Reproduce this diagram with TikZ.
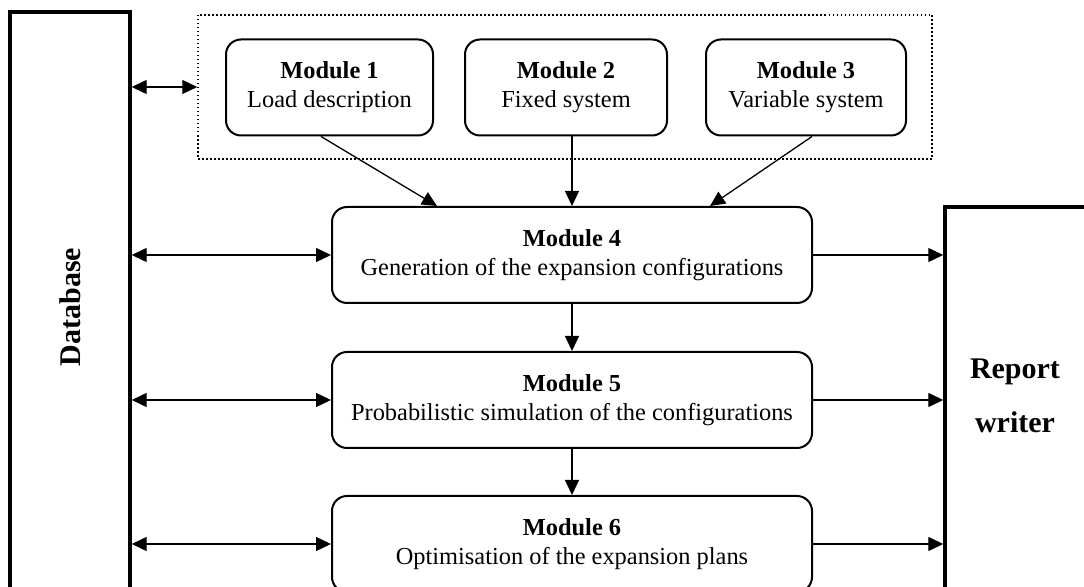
\documentclass[tikz,border=0pt]{standalone}
\usepackage{fontspec}
\setmainfont{Liberation Serif}
\usetikzlibrary{arrows.meta}
\begin{document}
\begin{tikzpicture}[x=0.5pt,y=-0.5pt,
  modbox/.style={draw, line width=1pt, rounded corners=7.5pt, align=center,
    inner sep=0pt, minimum height=48pt,
    font=\fontsize{12.2}{14.5}\selectfont},
  sidebox/.style={draw, line width=1.7pt, inner sep=0pt},
  groupbox/.style={draw, line width=0.75pt, dash pattern=on 0.75pt off 1.25pt,
    inner sep=0pt},
  tip/.tip={Triangle[length=7.5pt,width=7pt]},
  conn/.style={line width=0.65pt, -tip},
  biconn/.style={line width=0.65pt, tip-tip},
  bigtext/.style={font=\fontsize{15}{27}\selectfont\bfseries, align=center}
]
\useasboundingbox (0,0) rectangle (1084,587);
\clip (0,0) rectangle (1084,587);

% side blocks
\node[sidebox, minimum width=60pt, minimum height=304pt] (db) at (70,316) {};
\node[bigtext, rotate=90] (dbtext) at (70,307) {Database};
\node[sidebox, minimum width=72.5pt, minimum height=216.5pt] (rw) at (1017.5,423.5) {};
\node[bigtext] (rwtext) at (1015,396) {Report\\writer};

% input modules and their group
\node[groupbox, minimum width=367pt, minimum height=72pt] (grp) at (565,87) {};
\node[modbox, minimum width=103.5pt] (m1) at (329.5,87.5) {\textbf{Module 1}\\Load description};
\node[modbox, minimum width=101pt] (m2) at (566,87.5) {\textbf{Module 2}\\Fixed system};
\node[modbox, minimum width=100pt] (m3) at (806,87.5) {\textbf{Module 3}\\Variable system};

% processing chain
\node[modbox, minimum width=240pt] (m4) at (572,255) {\textbf{Module 4}\\Generation of the expansion configurations};
\node[modbox, minimum width=240pt] (m5) at (572,400) {\textbf{Module 5}\\Probabilistic simulation of the configurations};
\node[modbox, minimum width=240pt] (m6) at (572,544) {\textbf{Module 6}\\Optimisation of the expansion plans};

% inputs into module 4
\draw[conn] ([xshift=-4.25pt]m1.south) -- ([xshift=-67.5pt]m4.north);
\draw[conn] (m2.south -| m4.north) -- (m4.north);
\draw[conn] ([xshift=3pt]m3.south) -- ([xshift=69pt]m4.north);

% chain
\draw[conn] (m4.south) -- (m5.north);
\draw[conn] (m5.south) -- (m6.north);

% database links
\draw[biconn] (db.east |- grp.west) -- (grp.west);
\draw[biconn] (db.east |- m4.west) -- (m4.west);
\draw[biconn] (db.east |- m5.west) -- (m5.west);
\draw[biconn] (db.east |- m6.west) -- (m6.west);

% report writer links
\draw[conn] (m4.east) -- (m4.east -| rw.west);
\draw[conn] (m5.east) -- (m5.east -| rw.west);
\draw[conn] (m6.east) -- (m6.east -| rw.west);
\end{tikzpicture}
\end{document}
